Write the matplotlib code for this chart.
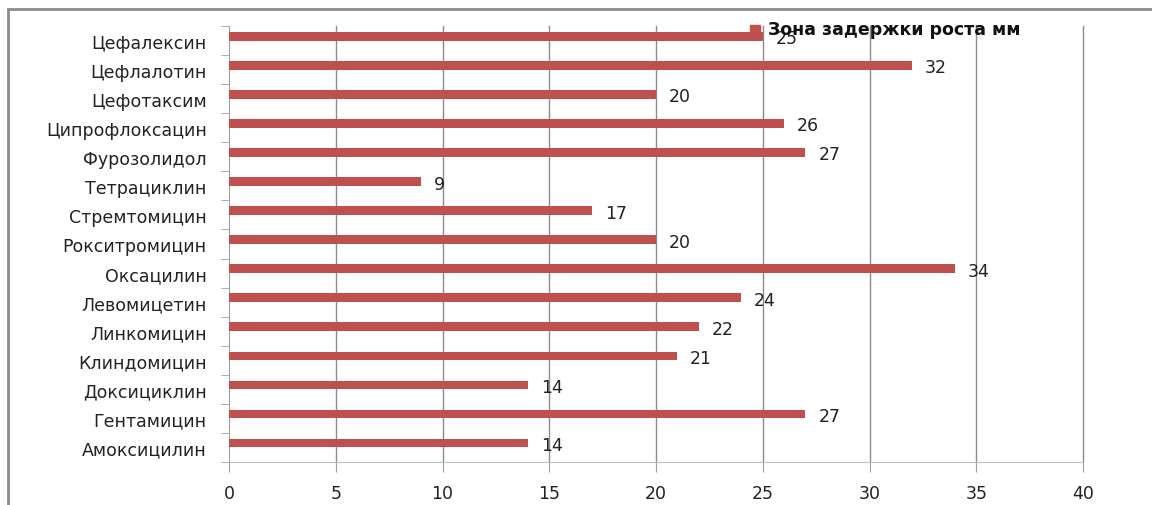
import matplotlib.pyplot as plt
from matplotlib.patches import Rectangle
import numpy as np

plt.rcParams['font.family'] = ['DejaVu Sans']

# top to bottom as in the picture
drugs = ['Цефалексин', 'Цефлалотин', 'Цефотаксим', 'Ципрофлоксацин', 'Фурозолидол',
         'Тетрациклин', 'Стремтомицин', 'Рокситромицин', 'Оксацилин', 'Левомицетин',
         'Линкомицин', 'Клиндомицин', 'Доксициклин', 'Гентамицин', 'Амоксицилин']
zone_mm = [25, 32, 20, 26, 27, 9, 17, 20, 34, 24, 22, 21, 14, 27, 14]
series_name = 'Зона задержки роста мм'

bar_color = '#c0504d'
grid_color = '#8c8c8c'
fs = 12.5

fig = plt.figure(figsize=(11.52, 5.06), dpi=100)
ax = fig.add_axes([0.1988, 0.085, 0.7413, 0.8617])

y = np.arange(len(drugs))[::-1]
# bars sit a bit above the middle of their category, like in the original
ax.barh(y + 0.15, zone_mm, height=0.3, color=bar_color, zorder=3)

for yi, v in zip(y, zone_mm):
    ax.text(v + 0.6, yi + 0.08, str(v), va='center', ha='left', fontsize=fs, color='#222222', zorder=4)

ax.set_xlim(0, 40)
ax.set_ylim(-0.5, len(drugs) - 0.5)
ax.set_xticks(np.arange(0, 41, 5))
ax.tick_params(axis='x', length=7, color='#a0a0a0', labelsize=fs, pad=9, labelcolor='#222222')
ax.set_yticks(y)
ax.set_yticklabels(drugs)
ax.tick_params(axis='y', length=0, labelsize=fs, pad=16, labelcolor='#222222')
ax.set_yticks(np.arange(-0.5, len(drugs), 1), minor=True)
ax.tick_params(axis='y', which='minor', length=6, color='#a0a0a0')

# vertical gridlines, the last one sits on the axes edge
for gx in np.arange(5, 41, 5):
    ax.axvline(gx, color=grid_color, linewidth=1, zorder=0, clip_on=False)

for s in ['top', 'right']:
    ax.spines[s].set_visible(False)
ax.spines['left'].set_color('#a0a0a0')
ax.spines['bottom'].set_color('#c0c0c0')

# legend drawn like the original, overlapping the first label
fig.patches.append(Rectangle((750 / 1152, 1 - 40 / 506), 10 / 1152, 14 / 506,
                             transform=fig.transFigure, color=bar_color))
fig.text(768 / 1152, 1 - 30 / 506, series_name, fontsize=fs, fontweight='bold',
         va='center', ha='left', color='#111111')

# outer chart border
fig.patches.append(Rectangle((8 / 1152, -0.05), 1.2, 1 - 10 / 506 + 0.05,
                             transform=fig.transFigure, fill=False,
                             edgecolor='#8c8c8c', linewidth=2))

fig.savefig('out.png', dpi=100)
